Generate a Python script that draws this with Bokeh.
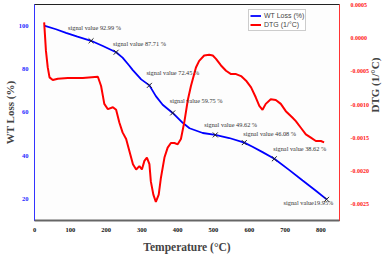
import math
from bokeh.plotting import figure
from bokeh.models import (Range1d, LinearAxis, FixedTicker, PrintfTickFormatter,
                          Legend, LegendItem, ColumnDataSource)
from bokeh.core.properties import value
from bokeh.embed import file_html
from bokeh.resources import INLINE

# ---- data ----
wt_temp = [27, 60, 88, 120, 158, 191, 228, 246, 265, 274, 298, 321, 339, 358, 386,
           414, 433, 470, 505, 544, 586, 609, 637, 670, 712, 749, 786, 816]
wt_loss = [100.0, 98.3, 96.6, 94.9, 92.99, 90.6, 87.71, 85.2, 81.5, 79.6, 75.2, 72.45,
           67.5, 63.5, 59.75, 55.2, 52.7, 50.5, 49.62, 48.2, 46.08, 44.2, 41.7, 38.62,
           33.4, 28.6, 23.9, 19.95]

dtg_temp = [27, 32, 37, 42, 51, 65, 93, 135, 177, 186, 191, 195, 205, 219, 228, 237,
            246, 256, 265, 275, 284, 293, 300, 307, 314, 321, 325, 332, 339, 347, 353,
            363, 372, 381, 391, 400, 409, 419, 428, 437, 451, 460, 474, 488, 498, 507,
            521, 535, 549, 563, 577, 591, 605, 618, 628, 637, 646, 660, 674, 688, 702,
            721, 730, 744, 758, 772, 786, 800, 809]
dtg_val = [0.00024, -0.00019, -0.00044, -0.00059, -0.00063, -0.00061, -0.00060, -0.00060,
           -0.00058, -0.00072, -0.00087, -0.00099, -0.00107, -0.00104, -0.00108, -0.00127,
           -0.00142, -0.00152, -0.00170, -0.00190, -0.00198, -0.00193, -0.00198, -0.00185,
           -0.00180, -0.00190, -0.00216, -0.00236, -0.00247, -0.00236, -0.00211, -0.00180,
           -0.00165, -0.00158, -0.00158, -0.00160, -0.00152, -0.00125, -0.00094, -0.00072,
           -0.00044, -0.00034, -0.00026, -0.00025, -0.00026, -0.00031, -0.00041, -0.00049,
           -0.00054, -0.00054, -0.00057, -0.00064, -0.00074, -0.00089, -0.00102, -0.00108,
           -0.00099, -0.00092, -0.00093, -0.00099, -0.00110, -0.00120, -0.00125, -0.00135,
           -0.00145, -0.00150, -0.00155, -0.00155, -0.00157]

mark_temp = [158, 228, 321, 386, 505, 586, 670, 816]
mark_val = [92.99, 87.71, 72.45, 59.75, 49.62, 46.08, 38.62, 19.95]
mark_text = ["signal value 92.99 %", "signal value 87.71 %", "signal value 72.45 %",
             "signal value 59.75 %", "signal value 49.62 %", "signal value 46.08 %",
             "signal value 38.62 %", "signal value19.95%"]
# label placement offsets (px)
mark_dx = [-23, -3, -3, -3, -11, -1, -1, -43]
mark_dy = [-13, -9, -13, -12, -10, -9, -10, 3]

x_ticks = [0, 100, 200, 300, 400, 500, 600, 700, 800]
left_ticks = [20, 40, 60, 80, 100]
right_ticks = [-0.0025, -0.0020, -0.0015, -0.0010, -0.0005, 0.0, 0.0005]

serif = "Liberation Serif"

p = figure(frame_width=305, frame_height=216, output_backend="svg", toolbar_location=None,
           x_range=Range1d(0, 852), y_range=Range1d(10.2, 109.7),
           min_border_left=32, min_border_right=47, min_border_top=4, min_border_bottom=35)
p.extra_y_ranges = {"dtg": Range1d(-0.00275, 0.00051)}
p.grid.visible = False
p.outline_line_color = "#222222"
p.outline_line_width = 1
p.background_fill_color = "#fdfdfd"

def style_axis(ax):
    ax.major_tick_line_color = None
    ax.minor_tick_line_color = None
    ax.major_tick_out = 0
    ax.major_tick_in = 0
    ax.minor_tick_out = 0
    ax.minor_tick_in = 0
    ax.axis_label_text_font = serif
    ax.axis_label_text_font_style = "bold"
    ax.major_label_text_font = serif
    ax.major_label_text_font_style = "bold"

# bottom axis
xa = p.xaxis[0]
style_axis(xa)
xa.ticker = FixedTicker(ticks=x_ticks)
xa.axis_label = "Temperature (°C)"
xa.axis_label_text_font_size = "11.5px"
xa.axis_label_standoff = 6
xa.major_label_text_font_size = "6.5px"
xa.major_label_text_color = "#111111"
xa.major_label_standoff = 7
xa.axis_line_color = "#666666"
xa.axis_line_width = 2

# left axis
ya = p.yaxis[0]
style_axis(ya)
ya.ticker = FixedTicker(ticks=left_ticks)
ya.axis_label = "WT Loss (%)"
ya.axis_label_text_font_size = "11px"
ya.axis_label_standoff = 0
ya.major_label_text_font_size = "6.5px"
ya.major_label_text_color = "#1f1fff"
ya.major_label_standoff = 6
ya.axis_line_color = "#3333ff"

# right axis
ra = LinearAxis(y_range_name="dtg", ticker=FixedTicker(ticks=right_ticks),
                formatter=PrintfTickFormatter(format="%.4f"))
style_axis(ra)
ra.axis_label = "DTG (1/°C)"
ra.axis_label_orientation = math.pi / 2
ra.axis_label_text_font_size = "11px"
ra.axis_label_standoff = 3
ra.major_label_text_font_size = "6px"
ra.major_label_text_color = "#ff2020"
ra.major_label_standoff = 11
ra.axis_line_color = "#ff3333"
p.add_layout(ra, "right")

wt_src = ColumnDataSource(dict(x=wt_temp, y=wt_loss))
dtg_src = ColumnDataSource(dict(x=dtg_temp, y=dtg_val))
mk_src = ColumnDataSource(dict(x=mark_temp, y=mark_val, t=mark_text, dx=mark_dx, dy=mark_dy))

r_wt = p.line("x", "y", source=wt_src, line_color="#0000ff", line_width=1.8)
r_dtg = p.line("x", "y", source=dtg_src, line_color="#ff0000", line_width=2,
               y_range_name="dtg")
p.scatter("x", "y", source=mk_src, marker="x", size=7, line_color="#222222", line_width=1)
p.text("x", "y", text="t", source=mk_src, x_offset="dx", y_offset="dy",
       text_font=value(serif), text_font_size="6.3px", text_color="#333333",
       text_baseline="middle", text_align="left")

legend = Legend(items=[LegendItem(label="WT Loss (%)", renderers=[r_wt]),
                       LegendItem(label="DTG (1/°C)", renderers=[r_dtg])],
                location=(214, 189))
legend.label_text_font = "Liberation Sans"
legend.label_text_font_size = "7px"
legend.label_height = 9
legend.label_width = 10
legend.glyph_height = 9
legend.glyph_width = 11
legend.label_standoff = 3
legend.spacing = 0
legend.padding = 1
legend.margin = 0
legend.border_line_color = "#999999"
legend.border_line_width = 1
legend.background_fill_alpha = 1
p.add_layout(legend)

open("out.html", "w").write(file_html(p, INLINE))
